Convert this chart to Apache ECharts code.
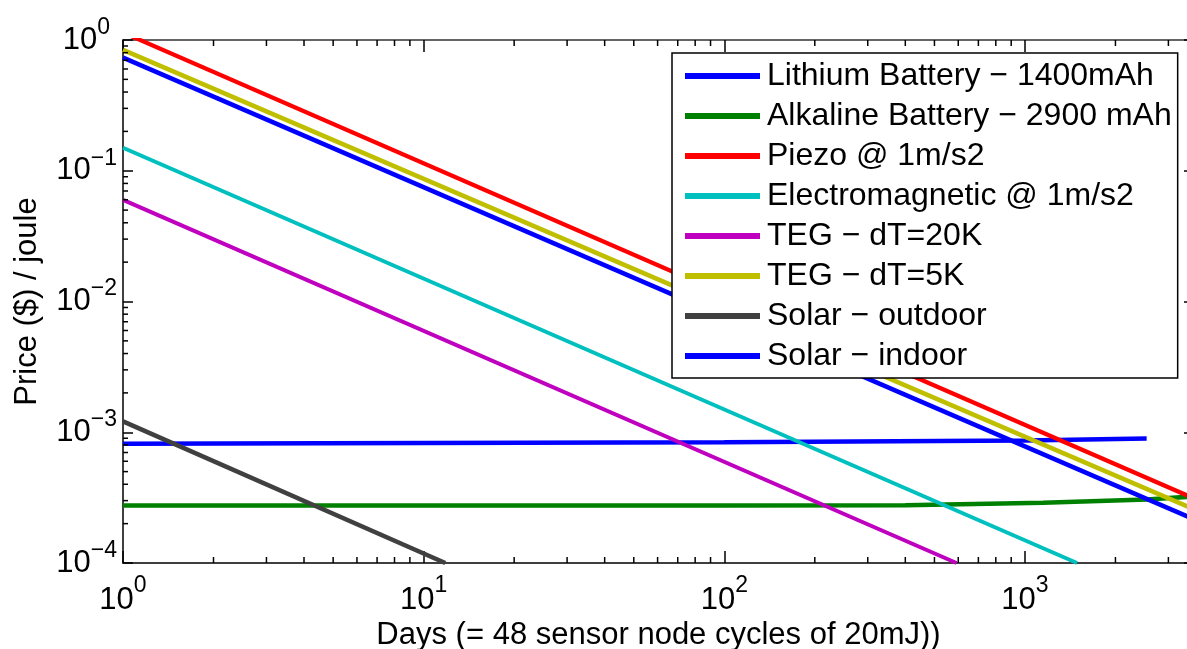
<!DOCTYPE html>
<html>
<head>
<meta charset="utf-8">
<script src="https://cdn.jsdelivr.net/npm/echarts@6/dist/echarts.min.js"></script>
<style>
  html, body { margin: 0; padding: 0; background: #fff; }
  #chart { width: 1187px; height: 649px; }
</style>
</head>
<body>
<div id="chart"></div>
<script>
// ---- Data ----
const seriesNames = [
  'Lithium Battery − 1400mAh',
  'Alkaline Battery − 2900 mAh',
  'Piezo @ 1m/s2',
  'Electromagnetic @ 1m/s2',
  'TEG − dT=20K',
  'TEG − dT=5K',
  'Solar − outdoor',
  'Solar − indoor'
];
const lithiumDays   = [1, 10, 100, 1000, 2540];
const lithiumPrice  = [8.15e-4, 8.27e-4, 8.39e-4, 8.64e-4, 8.95e-4];
const alkalineDays  = [1, 100, 400, 1150, 2540, 3650];
const alkalinePrice = [2.75e-4, 2.75e-4, 2.77e-4, 2.89e-4, 3.06e-4, 3.23e-4];
const piezoDays     = [1, 3650];
const piezoPrice    = [1.14, 3.12e-4];
const emDays        = [1, 1490];
const emPrice       = [0.150, 1.0e-4];
const teg20Days     = [1, 592];
const teg20Price    = [0.0598, 1.0e-4];
const teg5Days      = [1, 3650];
const teg5Price     = [0.84, 2.58e-4];
const solarOutDays  = [1, 11.8];
const solarOutPrice = [1.21e-3, 1.0e-4];
const solarInDays   = [1, 3650];
const solarInPrice  = [0.733, 2.16e-4];

const xMin = 1, xMax = 3650, yMin = 1e-4, yMax = 1;
const xMinorTicks = [2,3,4,5,6,7,8,9, 20,30,40,50,60,70,80,90, 200,300,400,500,600,700,800,900, 2000,3000];
const yMinorTicks = [2e-4,3e-4,4e-4,5e-4,6e-4,7e-4,8e-4,9e-4,
                     2e-3,3e-3,4e-3,5e-3,6e-3,7e-3,8e-3,9e-3,
                     2e-2,3e-2,4e-2,5e-2,6e-2,7e-2,8e-2,9e-2,
                     0.2,0.3,0.4,0.5,0.6,0.7,0.8,0.9];
const xTitle = 'Days (= 48 sensor node cycles of 20mJ))';
const yTitle = 'Price ($) / joule';

// ---- Styling ----
const FONT = '"Liberation Sans", Arial, sans-serif';
const colors = ['#0000ff', '#008000', '#ff0000', '#00bfbf', '#bf00bf', '#bfbf00', '#404040', '#0000ff'];
const widths = [4.5, 4.5, 4.2, 4, 4, 4.5, 4.5, 4.5];
const xs = [lithiumDays, alkalineDays, piezoDays, emDays, teg20Days, teg5Days, solarOutDays, solarInDays];
const ys = [lithiumPrice, alkalinePrice, piezoPrice, emPrice, teg20Price, teg5Price, solarOutPrice, solarInPrice];

function powLabel(v, isY) {
  const e = Math.round(Math.log10(v));
  if (Math.abs(Math.pow(10, e) - v) / v > 1e-6) return '';
  const exp = (e < 0 ? '−' : '') + Math.abs(e);
  if (isY && e >= 0) return '{b|10}{sp|' + exp + '}';
  return '{b|10}{s|' + exp + '}';
}
function makeRich(lh) {
  return {
    b: { fontSize: 31, lineHeight: lh, fontFamily: FONT, color: '#000' },
    s: { fontSize: 23, lineHeight: 23, verticalAlign: 'top', fontFamily: FONT, color: '#000' },
    sp: { fontSize: 23, lineHeight: 23, verticalAlign: 'top', fontFamily: FONT, color: '#000', padding: [0, 7, 0, 0] }
  };
}

const lineSeries = seriesNames.map((name, i) => ({
  name: name,
  type: 'line',
  xAxisIndex: 0,
  yAxisIndex: 0,
  data: xs[i].map((x, j) => [x, ys[i][j]]),
  showSymbol: false,
  symbol: 'none',
  clip: true,
  z: 2 + i * 0.01,
  lineStyle: { color: colors[i], width: widths[i], cap: 'butt' },
  itemStyle: { color: colors[i] },
  emphasis: { disabled: true }
}));

const tickStyle = { stroke: '#000', lineWidth: 1.5 };
const minorX = {
  type: 'custom', coordinateSystem: 'cartesian2d', xAxisIndex: 0, yAxisIndex: 0,
  silent: true, clip: false, z: 5,
  data: xMinorTicks.map(v => [v, yMin]),
  renderItem: function (params, api) {
    const v = api.value(0);
    const b = api.coord([v, yMin]);
    const t = api.coord([v, yMax]);
    return { type: 'group', children: [
      { type: 'line', shape: { x1: b[0], y1: b[1], x2: b[0], y2: b[1] - 6 }, style: tickStyle },
      { type: 'line', shape: { x1: t[0], y1: t[1], x2: t[0], y2: t[1] + 6 }, style: tickStyle }
    ]};
  }
};
const minorY = {
  type: 'custom', coordinateSystem: 'cartesian2d', xAxisIndex: 0, yAxisIndex: 0,
  silent: true, clip: false, z: 5,
  data: yMinorTicks.map(v => [xMin, v]),
  renderItem: function (params, api) {
    const v = api.value(1);
    const l = api.coord([xMin, v]);
    const r = api.coord([xMax, v]);
    return { type: 'group', children: [
      { type: 'line', shape: { x1: l[0], y1: l[1], x2: l[0] + 5, y2: l[1] }, style: tickStyle },
      { type: 'line', shape: { x1: r[0], y1: r[1], x2: r[0] - 5, y2: r[1] }, style: tickStyle }
    ]};
  }
};

const chart = echarts.init(document.getElementById('chart'), null, { renderer: 'canvas' });
chart.setOption({
  animation: false,
  backgroundColor: '#ffffff',
  textStyle: { fontFamily: FONT },
  grid: { left: 123, top: 40, right: -7, bottom: 86, containLabel: false, outerBoundsMode: 'none' },
  legend: {
    data: seriesNames,
    orient: 'vertical',
    left: 672,
    top: 53,
    padding: [7, 6, 6, 13],
    itemGap: 8,
    itemWidth: 75,
    itemHeight: 6,
    icon: 'rect',
    backgroundColor: '#ffffff',
    borderColor: '#000',
    borderWidth: 1.5,
    borderRadius: 0,
    selectedMode: false,
    textStyle: { fontSize: 32, lineHeight: 32, color: '#000', fontFamily: FONT, padding: [0, 0, 0, 2] },
    z: 10
  },
  xAxis: [
    {
      type: 'log', logBase: 10, min: xMin, max: xMax, position: 'bottom',
      name: xTitle, nameLocation: 'middle', nameGap: 52,
      nameTextStyle: { fontSize: 31, color: '#000', fontFamily: FONT },
      axisLine: { show: true, lineStyle: { color: '#000', width: 1.5 } },
      axisTick: { show: true, inside: true, length: 12, lineStyle: { color: '#000', width: 1.5 } },
      minorTick: { show: false },
      splitLine: { show: false },
      axisLabel: { show: true, margin: 11, formatter: v => powLabel(v, false), rich: makeRich(52) }
    },
    {
      type: 'log', logBase: 10, min: xMin, max: xMax, position: 'top',
      axisLine: { show: true, lineStyle: { color: '#333', width: 1.5 } },
      axisTick: { show: true, inside: true, length: 12, lineStyle: { color: '#000', width: 1.5 } },
      splitLine: { show: false },
      axisLabel: { show: false }
    }
  ],
  yAxis: [
    {
      type: 'log', logBase: 10, min: yMin, max: yMax, position: 'left',
      name: yTitle, nameLocation: 'middle', nameGap: 80,
      nameTextStyle: { fontSize: 31, color: '#000', fontFamily: FONT },
      axisLine: { show: true, lineStyle: { color: '#000', width: 1.5 } },
      axisTick: { show: true, inside: true, length: 10, lineStyle: { color: '#000', width: 1.5 } },
      minorTick: { show: false },
      splitLine: { show: false },
      axisLabel: { show: true, margin: 6, formatter: v => powLabel(v, true), rich: makeRich(48) }
    },
    {
      type: 'log', logBase: 10, min: yMin, max: yMax, position: 'right',
      axisLine: { show: true, lineStyle: { color: '#333', width: 1.5 } },
      axisTick: { show: true, inside: true, length: 10, lineStyle: { color: '#000', width: 1.5 } },
      splitLine: { show: false },
      axisLabel: { show: false }
    }
  ],
  series: lineSeries.concat([minorX, minorY])
});
</script>
</body>
</html>
